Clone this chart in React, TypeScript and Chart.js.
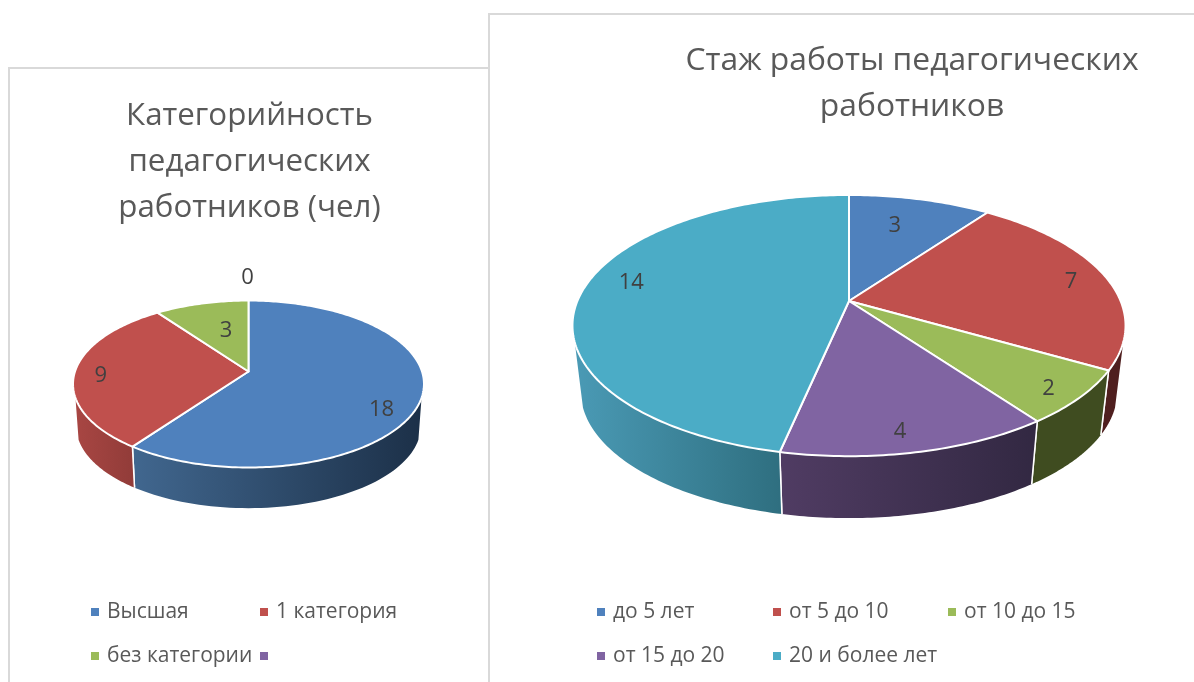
import React, { useEffect, useRef } from "react";
import { Chart, registerables } from "chart.js";

Chart.register(...registerables);

// ---- data ----
const categoryLabels = ["Высшая", "1 категория", "без категории", ""];
const categoryValues = [18, 9, 3, 0];
const categoryTitle = ["Категорийность", "педагогических", "работников (чел)"];

const tenureLabels = ["до 5 лет", "от 5 до 10", "от 10 до 15", "от 15 до 20", "20 и более лет"];
const tenureValues = [3, 7, 2, 4, 14];
const tenureTitle = ["Стаж работы педагогических", "работников"];

// ---- styles ----
const topColors = ["#4f81bd", "#c0504d", "#9bbb59", "#8064a2", "#4bacc6"];
const FONT = '"Open Sans", sans-serif';
const TEXT_GREY = "#595959";
const LABEL_GREY = "#404040";

type Wall = [string, string];
type Pie3D = {
  rx: number; ry: number; persp: number; drop: number; taper: number;
  walls: Wall[];
  labelNudge: [number, number][];
  titleShift: number;
  legendCols: number[]; legendRows: number[]; legendFont: number; legendText: number;
  valueFont: number;
};

const FRONT_FROM = (108 / 180) * Math.PI; // clock angle where the side wall becomes visible
const FRONT_TO = (252 / 180) * Math.PI;

const pie3dPlugin = {
  id: "pie3d",
  afterLayout(chart: any, _a: any, opts: Pie3D) {
    if (chart.titleBlock && opts.titleShift) {
      chart.titleBlock.left += opts.titleShift;
      chart.titleBlock.right += opts.titleShift;
    }
  },
  beforeDatasetDraw(chart: any, _a: any, opts: Pie3D) {
    const ctx = chart.ctx as CanvasRenderingContext2D;
    const arcs = chart.getDatasetMeta(0).data as any[];
    const cx = arcs[0].x, cy = arcs[0].y;
    const project = (angle: number, f = 1) => {
      const u = Math.cos(angle) * f, v = Math.sin(angle) * f;
      const w = 1 - opts.persp * v;
      return { x: cx + (opts.rx * u) / w, y: cy + (opts.ry * v) / w };
    };
    const lower = (p: { x: number; y: number }) => ({
      x: cx + (p.x - cx) * opts.taper,
      y: cy + (p.y - cy) * opts.taper + opts.drop,
    });

    // side walls
    arcs.forEach((arc, i) => {
      const a0 = Math.max(arc.startAngle + Math.PI / 2, FRONT_FROM);
      const a1 = Math.min(arc.endAngle + Math.PI / 2, FRONT_TO);
      if (a1 <= a0) return;
      const top: { x: number; y: number }[] = [];
      const steps = 60;
      for (let s = 0; s <= steps; s++) {
        top.push(project(a0 + ((a1 - a0) * s) / steps - Math.PI / 2));
      }
      const bot = top.map(lower);
      const g = ctx.createLinearGradient(top[steps].x, 0, top[0].x, 0);
      g.addColorStop(0, opts.walls[i][0]);
      g.addColorStop(1, opts.walls[i][1]);
      ctx.beginPath();
      top.forEach((p, n) => (n ? ctx.lineTo(p.x, p.y) : ctx.moveTo(p.x, p.y)));
      bot.reverse().forEach((p) => ctx.lineTo(p.x, p.y));
      ctx.closePath();
      ctx.fillStyle = g;
      ctx.fill();
      // separator at the slice boundaries
      ctx.strokeStyle = "#ffffff";
      ctx.lineWidth = 1.5;
      const edge = (idx: number) => {
        ctx.beginPath();
        ctx.moveTo(top[idx].x, top[idx].y);
        const b = lower(top[idx]);
        ctx.lineTo(b.x, b.y);
        ctx.stroke();
      };
      if (a0 > FRONT_FROM) edge(0);
      if (a1 < FRONT_TO) edge(steps);
    });

    // top surface
    arcs.forEach((arc, i) => {
      const span = arc.endAngle - arc.startAngle;
      if (span <= 0) return;
      const steps = Math.max(8, Math.ceil(span * 60));
      ctx.beginPath();
      ctx.moveTo(cx, cy);
      for (let s = 0; s <= steps; s++) {
        const p = project(arc.startAngle + (span * s) / steps);
        ctx.lineTo(p.x, p.y);
      }
      ctx.closePath();
      ctx.fillStyle = arc.options.backgroundColor;
      ctx.fill();
      ctx.strokeStyle = "#ffffff";
      ctx.lineWidth = 2;
      ctx.lineJoin = "round";
      ctx.stroke();
    });
    return false;
  },
  afterDraw(chart: any, _a: any, opts: Pie3D) {
    const ctx = chart.ctx as CanvasRenderingContext2D;
    const arcs = chart.getDatasetMeta(0).data as any[];
    const cx = arcs[0].x, cy = arcs[0].y;
    const values = chart.data.datasets[0].data as number[];
    const colors = chart.data.datasets[0].backgroundColor as string[];
    ctx.save();
    // value labels
    ctx.fillStyle = LABEL_GREY;
    ctx.font = `${opts.valueFont}px ${FONT}`;
    ctx.textAlign = "center";
    ctx.textBaseline = "middle";
    arcs.forEach((arc, i) => {
      const mid = (arc.startAngle + arc.endAngle) / 2;
      const f = 0.8;
      const u = Math.cos(mid) * f, v = Math.sin(mid) * f;
      const w = 1 - opts.persp * v;
      const x = cx + (opts.rx * u) / w + opts.labelNudge[i][0];
      const y = cy + (opts.ry * v) / w + opts.labelNudge[i][1];
      ctx.fillText(String(values[i]), x, y);
    });
    // legend in a fixed grid
    const labels = chart.data.labels as string[];
    ctx.textAlign = "left";
    ctx.font = `${opts.legendFont}px ${FONT}`;
    labels.forEach((label, i) => {
      const col = i % opts.legendCols.length;
      const row = Math.floor(i / opts.legendCols.length);
      const x = opts.legendCols[col], y = opts.legendRows[row];
      ctx.fillStyle = colors[i];
      ctx.fillRect(x, y - 4, 8, 8);
      ctx.fillStyle = TEXT_GREY;
      ctx.fillText(label, x + opts.legendText, y);
    });
    ctx.restore();
  },
};

function PieCanvas(props: {
  labels: string[]; values: number[]; title: string[]; width: number; height: number;
  titleSize: number; titleTop: number; padding: any; pie: Pie3D;
}) {
  const ref = useRef<HTMLCanvasElement>(null);
  useEffect(() => {
    const chart = new Chart(ref.current as HTMLCanvasElement, {
      type: "pie",
      data: {
        labels: props.labels,
        datasets: [{ data: props.values, backgroundColor: topColors.slice(0, props.values.length) }],
      },
      options: {
        responsive: false,
        animation: false,
        layout: { padding: props.padding },
        plugins: {
          legend: { display: false },
          tooltip: { enabled: false },
          title: {
            display: true,
            text: props.title,
            color: TEXT_GREY,
            font: { family: FONT, size: props.titleSize, weight: "normal", lineHeight: "46px" },
            padding: { top: props.titleTop, bottom: 0 },
          },
          pie3d: props.pie,
        },
      } as any,
      plugins: [pie3dPlugin as any],
    });
    return () => chart.destroy();
  }, []);
  return <canvas ref={ref} width={props.width} height={props.height} />;
}

const panelBase: React.CSSProperties = {
  position: "absolute",
  boxSizing: "border-box",
  border: "2px solid #d9d9d9",
  background: "#ffffff",
};

export default function App() {
  return (
    <div style={{ position: "absolute", left: 0, top: 0, width: 1194, height: 682, overflow: "hidden", background: "#fff" }}>
      <div style={{ ...panelBase, left: 8, top: 67, width: 483, height: 700 }}>
        <PieCanvas
          labels={categoryLabels}
          values={categoryValues}
          title={categoryTitle}
          width={479}
          height={613}
          titleSize={31.3}
          titleTop={24}
          padding={{ left: 0, right: 2, top: 0, bottom: 170 }}
          pie={{
            rx: 173.5, ry: 81.6, persp: 0.15, drop: 42.4, taper: 0.982,
            walls: [["#41678f", "#1c3048"], ["#a84643", "#923c39"], ["#3f4c20", "#3f4c20"], ["#4f3c62", "#322842"], ["#4a9ab5", "#2f6f80"]],
            labelNudge: [[-4, 17], [-9, 4], [16, 15], [-1, -35]],
            titleShift: 1,
            legendCols: [81, 250], legendRows: [543, 587], legendFont: 21, legendText: 16,
            valueFont: 22,
          }}
        />
      </div>
      <div style={{ ...panelBase, left: 488, top: 13, width: 720, height: 700 }}>
        <PieCanvas
          labels={tenureLabels}
          values={tenureValues}
          title={tenureTitle}
          width={716}
          height={667}
          titleSize={31.8}
          titleTop={23}
          padding={{ left: 2, right: 0, top: 0, bottom: 210 }}
          pie={{
            rx: 271.6, ry: 126, persp: 0.188, drop: 66.6, taper: 0.97,
            walls: [["#3a5f8a", "#1c3048"], ["#4f1f1f", "#4f1f1f"], ["#3f4c20", "#3f4c20"], ["#503c63", "#322842"], ["#4a9ab5", "#2f6f80"]],
            labelNudge: [[-13, 9], [16, 1], [20, 13], [-2, 15.5], [-5, -8]],
            titleShift: 63,
            legendCols: [107, 283, 458], legendRows: [597, 641], legendFont: 21, legendText: 16,
            valueFont: 22,
          }}
        />
      </div>
    </div>
  );
}
